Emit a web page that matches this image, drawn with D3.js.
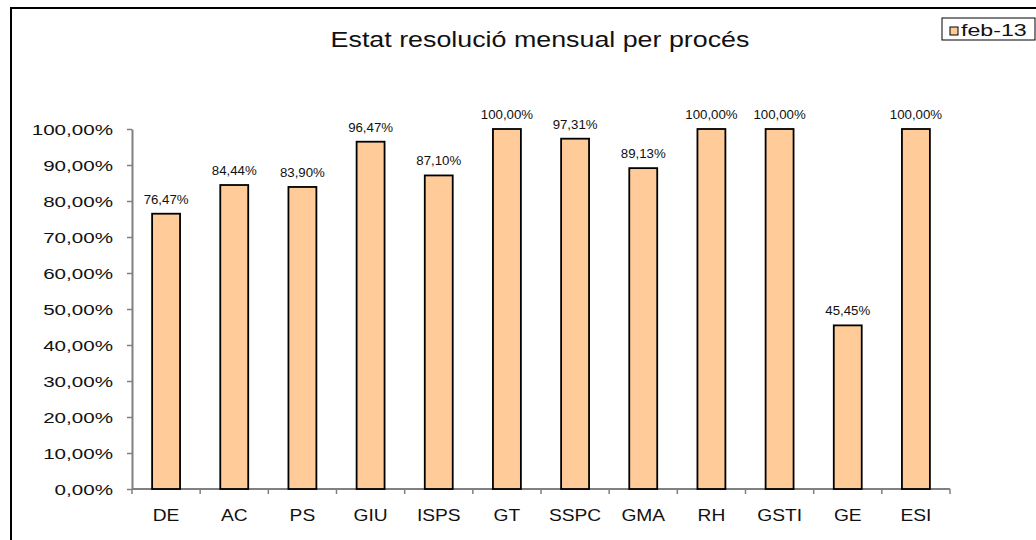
<!DOCTYPE html>
<html>
<head>
<meta charset="utf-8">
<script src="https://cdn.jsdelivr.net/npm/d3@7"></script>
<style>
  body { margin: 0; background: #fff; }
  svg { display: block; font-family: "Liberation Sans", Arial, sans-serif; }
</style>
</head>
<body>
<svg id="chart" width="1036" height="540"></svg>
<script>
// data
var processos = ["DE", "AC", "PS", "GIU", "ISPS", "GT", "SSPC", "GMA", "RH", "GSTI", "GE", "ESI"];
var resolucio = [76.47, 84.44, 83.90, 96.47, 87.10, 100.00, 97.31, 89.13, 100.00, 100.00, 45.45, 100.00];
var yTicks = [0, 10, 20, 30, 40, 50, 60, 70, 80, 90, 100];
var serieNom = "feb-13";
var titol = "Estat resolució mensual per procés";

var svg = d3.select("#chart"),
    margin = {top: 129, right: 86, bottom: 51, left: 132},
    width = 1036 - margin.left - margin.right,
    height = 540 - margin.top - margin.bottom;

var ca = d3.formatLocale({decimal: ",", thousands: ".", grouping: [3], currency: ["", "€"]});
var fmt = function(v) { return ca.format(".2f")(v) + "%"; };

// outer frame
svg.append("rect")
    .attr("x", 11).attr("y", 8)
    .attr("width", 1040).attr("height", 560)
    .attr("fill", "none").attr("stroke", "#000").attr("stroke-width", 2);

var g = svg.append("g").attr("transform", "translate(" + margin.left + "," + margin.top + ")");

var x = d3.scaleBand().domain(processos).range([0, width]).padding(0);
var y = d3.scaleLinear().domain([0, 100]).range([height, 0]);
var barW = x.bandwidth() * 0.41;

// y axis
var yAxis = g.append("g")
    .attr("class", "axis axis--y")
    .call(d3.axisLeft(y).tickValues(yTicks).tickFormat(fmt).tickSize(5).tickSizeOuter(0));
yAxis.select(".domain").attr("stroke", "#808080").attr("stroke-width", 2);
yAxis.selectAll(".tick line").attr("stroke", "#808080").attr("stroke-width", 1.5);
yAxis.selectAll(".tick text")
    .attr("font-size", 15.5)
    .attr("fill", "#111")
    .attr("x", -19 / 1.33)
    .attr("dy", "0.36em")
    .attr("transform", "scale(1.33,1)");

// x axis line and boundary ticks
var xAxis = g.append("g")
    .attr("class", "axis axis--x")
    .attr("transform", "translate(0," + height + ")");
xAxis.append("line")
    .attr("x1", 0).attr("x2", width)
    .attr("stroke", "#808080").attr("stroke-width", 2);
xAxis.selectAll(".bound")
    .data(processos.concat([null]))
    .enter().append("line")
    .attr("class", "bound")
    .attr("x1", function(d, i) { return i < processos.length ? x(d) : width; })
    .attr("x2", function(d, i) { return i < processos.length ? x(d) : width; })
    .attr("y1", 0).attr("y2", 5)
    .attr("stroke", "#808080").attr("stroke-width", 1.5);
xAxis.selectAll(".lbl")
    .data(processos)
    .enter().append("text")
    .attr("class", "lbl")
    .attr("transform", function(d) { return "translate(" + (x(d) + x.bandwidth() / 2) + ",32) scale(1.2,1)"; })
    .attr("text-anchor", "middle")
    .attr("font-size", 16)
    .attr("fill", "#111")
    .text(function(d) { return d; });

// bars
var bars = g.selectAll(".bar")
    .data(processos.map(function(p, i) { return {p: p, v: resolucio[i]}; }))
    .enter().append("g").attr("class", "bar");

bars.append("rect")
    .attr("x", function(d) { return x(d.p) + (x.bandwidth() - barW) / 2; })
    .attr("y", function(d) { return y(d.v); })
    .attr("width", barW)
    .attr("height", function(d) { return height - y(d.v); })
    .attr("fill", "#FFCC99")
    .attr("stroke", "#000")
    .attr("stroke-width", 1.8);

bars.append("text")
    .attr("transform", function(d) { return "translate(" + (x(d.p) + x.bandwidth() / 2) + "," + (y(d.v) - 10) + ") scale(1.06,1)"; })
    .attr("text-anchor", "middle")
    .attr("font-size", 12.5)
    .attr("fill", "#111")
    .text(function(d) { return fmt(d.v); });

// title
svg.append("text")
    .attr("transform", "translate(540,47) scale(1.22,1)")
    .attr("text-anchor", "middle")
    .attr("font-size", 22)
    .attr("fill", "#111")
    .text(titol);

// legend
var lg = svg.append("g").attr("transform", "translate(942,18)");
lg.append("rect")
    .attr("width", 93).attr("height", 22)
    .attr("fill", "#fff").attr("stroke", "#000").attr("stroke-width", 1);
lg.append("rect")
    .attr("x", 8).attr("y", 9).attr("width", 8).attr("height", 8)
    .attr("fill", "#FFCC99").attr("stroke", "#000").attr("stroke-width", 1);
lg.append("text")
    .attr("transform", "translate(19,17.5) scale(1.45,1)")
    .attr("font-size", 16)
    .attr("fill", "#111")
    .text(serieNom);
</script>
</body>
</html>
